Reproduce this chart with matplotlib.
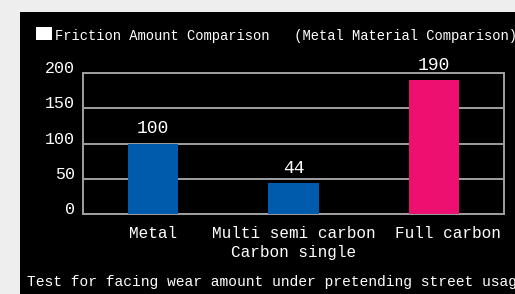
import matplotlib.pyplot as plt
from matplotlib.patches import Rectangle
from matplotlib.transforms import ScaledTranslation

categories = ['Metal', 'Multi semi carbon\nCarbon single', 'Full carbon']
values = [100, 44, 190]
bar_colors = ['#005bac', '#005bac', '#ee1070']
yticks = [0, 50, 100, 150, 200]

title = 'Friction Amount Comparison   (Metal Material Comparison)'
note = 'Test for facing wear amount under pretending street usage'

font = 'Liberation Mono'
W, H = 515, 294

fig = plt.figure(figsize=(W / 100, H / 100), dpi=100, facecolor='#eeeeee')
# black panel behind everything
fig.patches.append(Rectangle((20 / W, 0), 1, 1 - 12 / H, transform=fig.transFigure,
                             facecolor='black', edgecolor='none', zorder=-5))

ax = fig.add_axes([83 / W, 1 - 214 / H, 421 / W, 141 / H])
ax.set_zorder(2)
ax.set_facecolor('black')
x = range(len(categories))
ax.bar(x, values, width=0.36, color=bar_colors, zorder=3)
for i, v in enumerate(values):
    ax.text(i, v + 9, str(v), ha='center', va='bottom', color='white',
            fontsize=13, family=font)

ax.set_xlim(-0.5, 2.5)
ax.set_ylim(0, 200)
ax.set_yticks(yticks)
ax.set_xticks(list(x))
ax.set_xticklabels(categories, color='white', fontsize=11.5, family=font, linespacing=1.3)
ax.set_yticklabels([str(t) for t in yticks], color='white', fontsize=12, family=font)
ax.tick_params(length=0, pad=6)
ax.tick_params(axis='x', pad=9)
ax.grid(axis='y', color='#a0a0a0', linewidth=1.4, zorder=1)
for s in ax.spines.values():
    s.set_color('#a0a0a0')
    s.set_linewidth(1.4)

# y labels sit a bit above their grid lines
for lab in ax.get_yticklabels():
    lab.set_transform(lab.get_transform() + ScaledTranslation(0, 6 / 100, fig.dpi_scale_trans))
# last x label is shifted right in the original
last = ax.get_xticklabels()[-1]
last.set_transform(last.get_transform() + ScaledTranslation(14 / 100, 0, fig.dpi_scale_trans))

# title with white square
fig.patches.append(Rectangle((36 / W, 1 - 40 / H), 16 / W, 13 / H, transform=fig.transFigure,
                             facecolor='white', edgecolor='none', zorder=2))
fig.text(55 / W, 1 - 40 / H, title, color='white', fontsize=9.9, family=font,
         ha='left', va='baseline')
fig.text(27 / W, 1 - 286 / H, note, color='white', fontsize=10.5, family=font,
         ha='left', va='baseline')

fig.savefig('out.png', dpi=100, facecolor=fig.get_facecolor())
